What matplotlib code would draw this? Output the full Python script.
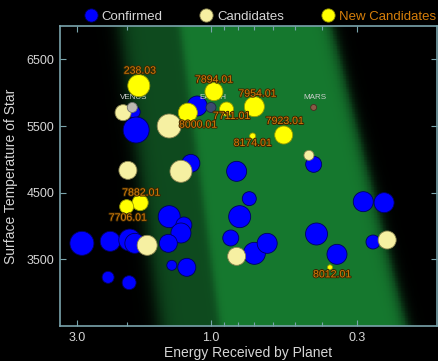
import numpy as np
import matplotlib
matplotlib.use('Agg')
import matplotlib.pyplot as plt
import matplotlib.patheffects as pe
from matplotlib.colors import LinearSegmentedColormap
from matplotlib.lines import Line2D
from matplotlib.ticker import NullFormatter

plt.rcParams['font.family'] = ['Liberation Sans', 'DejaVu Sans']

# confirmed planets: energy received (Earth=1), star temperature (K), size
conf_flux = [1.88, 1.85, 1.12, 1.18, 0.81, 0.43, 2.89, 2.29, 1.95, 1.87, 1.41, 1.25, 1.28, 1.42,
             1.38, 1.22, 2.33, 1.96, 0.73, 0.79, 0.85, 0.70, 0.63, 0.42, 0.355, 0.286, 0.241, 0.264]
conf_temp = [5710, 5440, 5800, 4940, 4820, 4925, 3740, 3770, 3790, 3740, 4140, 4015, 3895, 3740,
             3410, 3380, 3230, 3150, 4410, 4140, 3820, 3590, 3740, 3880, 3575, 4365, 4350, 3760]
conf_size = [6, 13, 10, 9, 10, 8, 12, 10, 11, 10, 11, 8, 10, 9,
             5, 9, 6, 7, 7, 11, 8, 11, 10, 11, 10, 10, 10, 7]

# earlier candidates
cand_flux = [2.06, 1.41, 1.98, 1.28, 1.69, 0.81, 0.447, 0.235]
cand_temp = [5700, 5500, 4835, 4820, 3710, 3545, 5060, 3790]
cand_size = [8, 12, 9, 11, 10, 9, 5, 9]

# new candidates
new_names = ['238.03', '8000.01', '7894.01', '7711.01', '7954.01', '8174.01', '7923.01',
             '7882.01', '7706.01', '8012.01']
new_flux = [1.81, 1.21, 0.976, 0.88, 0.70, 0.71, 0.55, 1.79, 2.0, 0.376]
new_temp = [6105, 5700, 6015, 5755, 5790, 5350, 5365, 4350, 4290, 3380]
new_size = [11, 9.5, 9, 7, 10, 3, 9, 8, 7, 2.5]

# solar system
sol_names = ['VENUS', 'EARTH', 'MARS']
sol_flux = [1.91, 1.0, 0.43]
sol_temp = [5778, 5778, 5778]

# habitable zone edges (flux) at 7000 K and 2500 K
hz_inner = [2.11, 1.52]
hz_mid = [1.29, 0.93]
hz_outer = [0.376, 0.203]

fg = '#d6d6d6'
orange = '#d57e0a'
spine = '#7aa4ac'

fig = plt.figure(figsize=(4.38, 3.61), dpi=100, facecolor='black')
ax = fig.add_axes([60/438, 35/361, 377/438, 300/361])
ax.set_facecolor('black')
ax.set_xscale('log')
ax.set_xlim(3.46, 0.156)
ax.set_ylim(2500, 7000)

# habitable zone shading
xe = np.logspace(np.log10(3.46), np.log10(0.156), 500)
ye = np.linspace(2500, 7000, 120)
L = np.log10(np.sqrt(xe[:-1]*xe[1:]))[None, :]
T = (0.5*(ye[:-1] + ye[1:]))[:, None]
f = (7000 - T)/4500
def edge(e):
    return np.log10(e[0]) + f*(np.log10(e[1]) - np.log10(e[0]))
sig = lambda z: 1/(1 + np.exp(-z))
v = 0.5*sig((edge(hz_inner) - L)/0.018) + 0.5*sig((edge(hz_mid) - L)/0.008)
v = v*(1 - sig((edge(hz_outer) - L)/0.014))
cmap = LinearSegmentedColormap.from_list('hz', [(0, 'black'), (0.5, '#0e4a1e'), (1, '#15782e')])
ax.pcolormesh(xe, ye, v, cmap=cmap, vmin=0, vmax=1, shading='flat', zorder=0, rasterized=True)

def area(r):
    return (1.44*np.array(r))**2

ax.scatter(conf_flux, conf_temp, s=area(conf_size), c='#0000ff', edgecolors='#000060', linewidths=0.6, zorder=2)
ax.scatter(cand_flux, cand_temp, s=area(cand_size), c='#f6f0a2', edgecolors='#8a8450', linewidths=0.6, zorder=3)

ax.scatter(sol_flux, sol_temp, s=area([5, 5, 3]), c=['#bdb9b0', '#3c4a6e', '#8a5a46'],
           edgecolors=['#707070', '#202840', '#4a2a20'], linewidths=0.6, zorder=4)
for nm, x, y in zip(sol_names, sol_flux, sol_temp):
    ax.annotate(nm, (x, y), xytext=(1, 7.5), textcoords='offset points', ha='center', va='center',
                color='#cfcfcf', fontsize=5.8, zorder=4)

ax.scatter(new_flux, new_temp, s=area(new_size), c='#ffff00', edgecolors='#9a9a00', linewidths=0.6, zorder=5)
lab_off = [(1, -15), (10, 12), (0, -12), (5, 7), (3, -13), (0, 7), (1, -14), (1, -10), (1, 11), (2, 7)]
for nm, x, y, (dx, dy) in zip(new_names, new_flux, new_temp, lab_off):
    ax.annotate(nm, (x, y), xytext=(dx*0.72, -dy*0.72), textcoords='offset points', ha='center', va='center',
                color=orange, fontsize=7.6, zorder=6,
                path_effects=[pe.withStroke(linewidth=1.3, foreground='#3a2400')])

ax.set_xticks([3, 1, 0.3])
ax.set_xticklabels(['3.0', '1.0', '0.3'])
ax.set_xticks([2, 0.9, 0.8, 0.7, 0.6, 0.5, 0.4], minor=True)
ax.xaxis.set_minor_formatter(NullFormatter())
ax.set_yticks([3500, 4500, 5500, 6500])
ax.tick_params(which='both', direction='in', top=True, right=True, color=spine, labelcolor=fg,
               labelsize=9, width=0.8, pad=4)
ax.tick_params(which='major', length=4)
ax.tick_params(which='minor', length=3)
for s in ax.spines.values():
    s.set_color(spine)
    s.set_linewidth(1.2)

ax.set_xlabel('Energy Received by Planet', color=fg, fontsize=10, labelpad=2)
ax.set_ylabel('Surface Temperature of Star', color=fg, fontsize=10, labelpad=6)

handles = [Line2D([], [], ls='', marker='o', ms=9.5, mfc=c, mec=e, mew=0.6)
           for c, e in [('#0000ff', '#000060'), ('#f6f0a2', '#8a8450'), ('#ffff00', '#9a9a00')]]
leg = fig.legend(handles, ['Confirmed', 'Candidates', 'New Candidates'], loc='center',
                 bbox_to_anchor=(0.594, 1 - 17/361), ncol=3, frameon=False, fontsize=9.5,
                 handlelength=0.9, handletextpad=0.35, columnspacing=2.9)
for t, c in zip(leg.get_texts(), [fg, fg, orange]):
    t.set_color(c)

fig.savefig('out.png', dpi=100, facecolor='black')
